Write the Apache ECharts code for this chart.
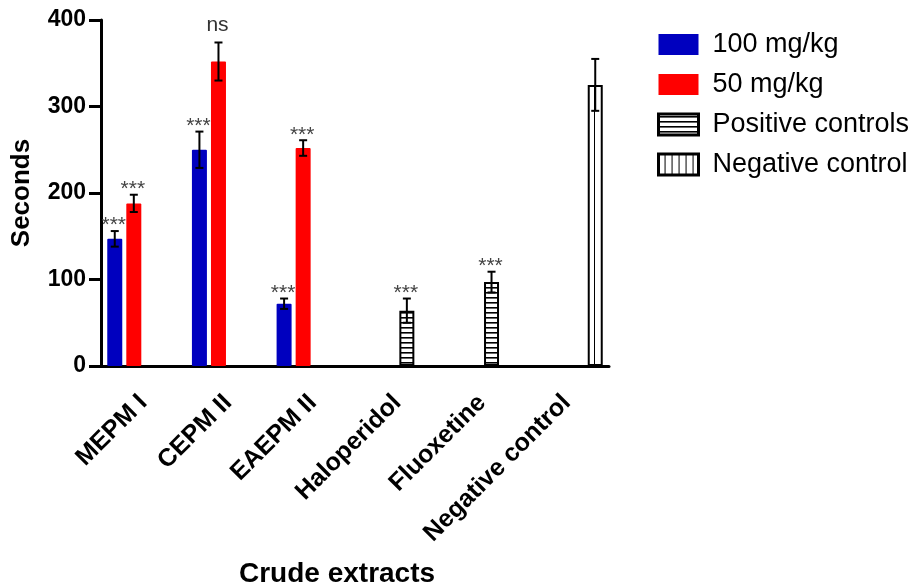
<!DOCTYPE html>
<html>
<head>
<meta charset="utf-8">
<script src="https://cdn.jsdelivr.net/npm/echarts@6/dist/echarts.min.js"></script>
<style>html,body{margin:0;padding:0;background:#fff}#main{width:922px;height:587px}</style>
</head>
<body>
<div id="main"></div>
<script>
// ---- data ----
const categories = ['MEPM I', 'CEPM II', 'EAEPM II', 'Haloperidol', 'Fluoxetine', 'Negative control'];
const seriesNames = ['100 mg/kg', '50 mg/kg', 'Positive controls', 'Negative control'];
const dose100 = [147, 250, 72, null, null, null];
const dose100Err = [9, 21, 6, null, null, null];
const dose100Sig = ['***', '***', '***', '', '', ''];
const dose50 = [188, 352, 252, null, null, null];
const dose50Err = [10, 22, 9, null, null, null];
const dose50Sig = ['***', 'ns', '***', '', '', ''];
const positive = [null, null, null, 64, 97, null];
const positiveErr = [null, null, null, 14, 12, null];
const positiveSig = ['', '', '', '***', '***', ''];
const negative = [null, null, null, null, null, 325];
const negativeErr = [null, null, null, null, null, 30];
const negativeSig = ['', '', '', '', '', ''];
const yTicks = [0, 100, 200, 300, 400];

const values = [dose100, dose50, positive, negative];
const errors = [dose100Err, dose50Err, positiveErr, negativeErr];
const sigs = [dose100Sig, dose50Sig, positiveSig, negativeSig];

// ---- patterns ----
function hPattern() {
  const c = document.createElement('canvas'); c.width = 4; c.height = 5;
  const g = c.getContext('2d'); g.fillStyle = '#fff'; g.fillRect(0, 0, 4, 5);
  g.fillStyle = '#000'; g.fillRect(0, 2, 4, 1.6); return c;
}
function vPattern() {
  const c = document.createElement('canvas'); c.width = 7; c.height = 4;
  const g = c.getContext('2d'); g.fillStyle = '#fff'; g.fillRect(0, 0, 7, 4);
  g.fillStyle = '#000'; g.fillRect(6, 0, 1.6, 4); return c;
}
const hPat = { image: hPattern(), repeat: 'repeat' };
const vPat = { image: vPattern(), repeat: 'repeat' };

const BAR_W = 15, BAR_GAP = 0.27;
const FONT = 'Liberation Sans, Arial, sans-serif';

const errData = [], errLabels = [];
values.forEach((arr, s) => {
  arr.forEach((v, i) => {
    if (v != null) { errData.push([i, v, errors[s][i], s]); errLabels.push(sigs[s][i]); }
  });
});

const colors = ['#0000bf', '#ff0000', hPat, vPat];
const barSeries = seriesNames.map((name, s) => ({
  name, type: 'bar', data: values[s], barWidth: BAR_W, barGap: (BAR_GAP * 100) + '%',
  itemStyle: s < 2 ? { color: colors[s], borderRadius: 1 } :
    { color: colors[s], borderColor: '#000', borderWidth: 2 }
}));

const chart = echarts.init(document.getElementById('main'), null, { renderer: 'canvas' });
chart.setOption({
  animation: false,
  backgroundColor: '#fff',
  title: {
    text: 'Crude extracts', left: 234, top: 555,
    textStyle: { fontFamily: FONT, fontSize: 28, fontWeight: 'bold', color: '#000' }
  },
  legend: {
    orient: 'vertical', left: 652, top: 26, itemWidth: 40, itemHeight: 21, itemGap: 13,
    icon: 'rect',
    textStyle: { fontFamily: FONT, fontSize: 27, color: '#000', padding: [0, 0, 0, 9] },
    data: [
      { name: seriesNames[0], itemStyle: { color: colors[0], borderWidth: 0 } },
      { name: seriesNames[1], itemStyle: { color: colors[1], borderWidth: 0 } },
      { name: seriesNames[2], itemStyle: { color: colors[2], borderColor: '#000', borderWidth: 3 } },
      { name: seriesNames[3], itemStyle: { color: colors[3], borderColor: '#000', borderWidth: 3 } }
    ]
  },
  grid: { left: 101, right: 313, top: 20, bottom: 221, containLabel: false },
  xAxis: {
    type: 'category', data: categories,
    axisLine: { lineStyle: { color: '#000', width: 3 } },
    axisTick: { alignWithLabel: true, length: 11, lineStyle: { color: '#000', width: 3 } },
    axisLabel: { rotate: 45, margin: 33, interval: 0, fontFamily: FONT, fontSize: 25, fontWeight: 'bold', color: '#000' }
  },
  yAxis: {
    type: 'value', min: yTicks[0], max: yTicks[yTicks.length - 1], interval: 100,
    name: 'Seconds', nameLocation: 'middle', nameGap: 66,
    nameTextStyle: { fontFamily: FONT, fontSize: 26, fontWeight: 'bold', color: '#000' },
    axisLine: { show: true, lineStyle: { color: '#000', width: 3 } },
    axisTick: { show: true, length: 12, lineStyle: { color: '#000', width: 3 } },
    splitLine: { show: false },
    axisLabel: { margin: 15, fontFamily: FONT, fontSize: 23, fontWeight: 'bold', color: '#000' }
  },
  series: barSeries.concat([{
    type: 'custom', name: 'err', data: errData, z: 5, silent: true,
    renderItem: function (params, api) {
      const ci = api.value(0), mean = api.value(1), sd = api.value(2), slot = api.value(3);
      const c = api.coord([ci, mean]);
      const x = c[0] + (slot - 1.5) * BAR_W * (1 + BAR_GAP);
      const top = api.coord([ci, mean + sd])[1];
      const bot = api.coord([ci, mean - sd])[1];
      const ls = { stroke: '#000', lineWidth: 2 };
      const label = errLabels[params.dataIndex];
      const children = [
        { type: 'line', shape: { x1: x, y1: top, x2: x, y2: bot }, style: ls },
        { type: 'line', shape: { x1: x - 4, y1: top, x2: x + 4, y2: top }, style: ls },
        { type: 'line', shape: { x1: x - 4, y1: bot, x2: x + 4, y2: bot }, style: ls }
      ];
      if (label) {
        children.push({
          type: 'text',
          style: {
            text: label, x: x - 1, y: label === 'ns' ? top - 7 : top + 5,
            align: 'center', verticalAlign: 'bottom',
            fill: label === 'ns' ? '#333' : '#444', font: '21px ' + FONT
          }
        });
      }
      return { type: 'group', children };
    }
  }])
});
</script>
</body>
</html>
